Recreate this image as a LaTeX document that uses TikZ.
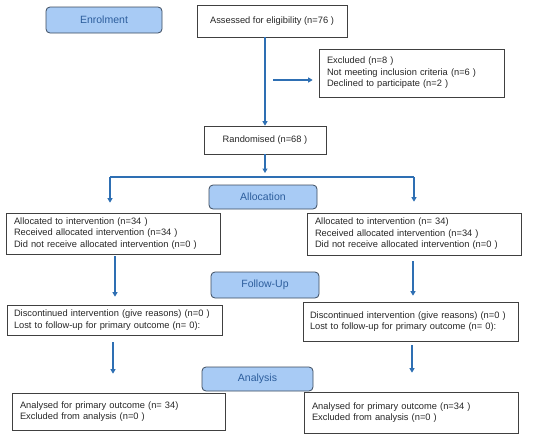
\documentclass[tikz,border=0pt]{standalone}
\usepackage{fontspec}
\setmainfont{Liberation Sans}
\usetikzlibrary{arrows.meta}
\definecolor{stagefill}{HTML}{A8CBF5}
\definecolor{stageline}{HTML}{3B4B5E}
\definecolor{stagetext}{HTML}{2C5D9C}
\definecolor{arrowblue}{HTML}{2E6FB3}
\begin{document}
\begin{tikzpicture}[x=1pt, y=-1pt,
  box/.style = {draw=black!75, line width=0.7pt, inner xsep=8pt, inner ysep=2pt, align=left, text=black!85, font=\fontsize{9.3}{11.5}\selectfont},
  stage/.style = {draw=stageline, line width=0.8pt, fill=stagefill, rounded corners=4pt, text=stagetext, font=\fontsize{10.5}{12}\selectfont},
  arr/.style = {draw=arrowblue, line width=1.6pt, -{Triangle[length=4.5pt,width=5pt]}},
  link/.style = {draw=arrowblue, line width=1.6pt}]
  \useasboundingbox (0,0) rectangle (550,442);

  \node[stage, minimum width=116pt, minimum height=26pt] (enrol) at (104,20) {Enrolment};
  \node[box, align=center, minimum width=150pt, minimum height=32pt] (assess) at (272,21) {Assessed for eligibility (n=76 )};
  \node[box, text width=169pt, minimum height=48pt] (excl) at (411.5,73)
    {Excluded (n=8 )\\Not meeting inclusion criteria (n=6 )\\Declined to participate (n=2 )};
  \node[box, align=center, minimum width=122pt, minimum height=28pt] (rand) at (265,140) {Randomised (n=68 )};

  \node[stage, minimum width=108pt, minimum height=24pt] (alloc) at (263,197) {Allocation};
  \node[box, text width=198pt, minimum height=41pt] (a1) at (113,233.5)
    {Allocated to intervention (n=34 )\\Received allocated intervention (n=34 )\\Did not receive allocated intervention (n=0 )};
  \node[box, text width=198pt, minimum height=42pt] (a2) at (414,234)
    {Allocated to intervention (n= 34)\\Received allocated intervention (n=34 )\\Did not receive allocated intervention (n=0 )};

  \node[stage, minimum width=108pt, minimum height=26pt] (follow) at (265,285) {Follow-Up};
  \node[box, inner xsep=7pt, text width=201pt, minimum height=30pt] (f1) at (114.5,320)
    {Discontinued intervention (give reasons) (n=0 )\\Lost to follow-up for primary outcome (n= 0):};
  \node[box, inner xsep=7pt, text width=201pt, minimum height=39pt] (f2) at (410.5,321.5)
    {Discontinued intervention (give reasons) (n=0 )\\Lost to follow-up for primary outcome (n= 0):};

  \node[stage, minimum width=111pt, minimum height=24pt] (anal) at (257.5,379) {Analysis};
  \node[box, text width=197pt, minimum height=37pt] (an1) at (118.5,411.5)
    {Analysed for primary outcome (n= 34)\\Excluded from analysis (n=0 )};
  \node[box, text width=198pt, minimum height=41pt] (an2) at (411,412.5)
    {Analysed for primary outcome (n=34 )\\Excluded from analysis (n=0 )};

  \coordinate (split) at (273,80);
  \coordinate (forkL) at (110,177);
  \coordinate (forkR) at (414,177);

  \draw[arr] (assess.south -| rand.north) -- (rand.north);
  \draw[arr, shorten >=6pt] (split) -- (split -| excl.west);
  \draw[arr, shorten >=4pt] (rand.south) -- (rand.south |- forkL);
  \draw[link] (forkL) -- (forkR);
  \draw[arr, shorten >=10pt] (forkL) -- (forkL |- a1.north);
  \draw[arr, shorten >=11pt] (forkR) -- (forkR |- a2.north);
  \draw[arr, shorten <=2pt, shorten >=8pt] ([xshift=2pt]a1.south) -- ([xshift=2pt]a1.south |- f1.north);
  \draw[arr, shorten <=6pt, shorten >=6pt] ([xshift=-1pt]a2.south) -- ([xshift=-1pt]a2.south |- f2.north);
  \draw[arr, shorten <=7pt, shorten >=19pt] ([xshift=-1.5pt]f1.south) -- ([xshift=-1.5pt]f1.south |- an1.north);
  \draw[arr, shorten <=4pt, shorten >=19pt] ([xshift=1.5pt]f2.south) -- ([xshift=1.5pt]f2.south |- an2.north);
\end{tikzpicture}
\end{document}
